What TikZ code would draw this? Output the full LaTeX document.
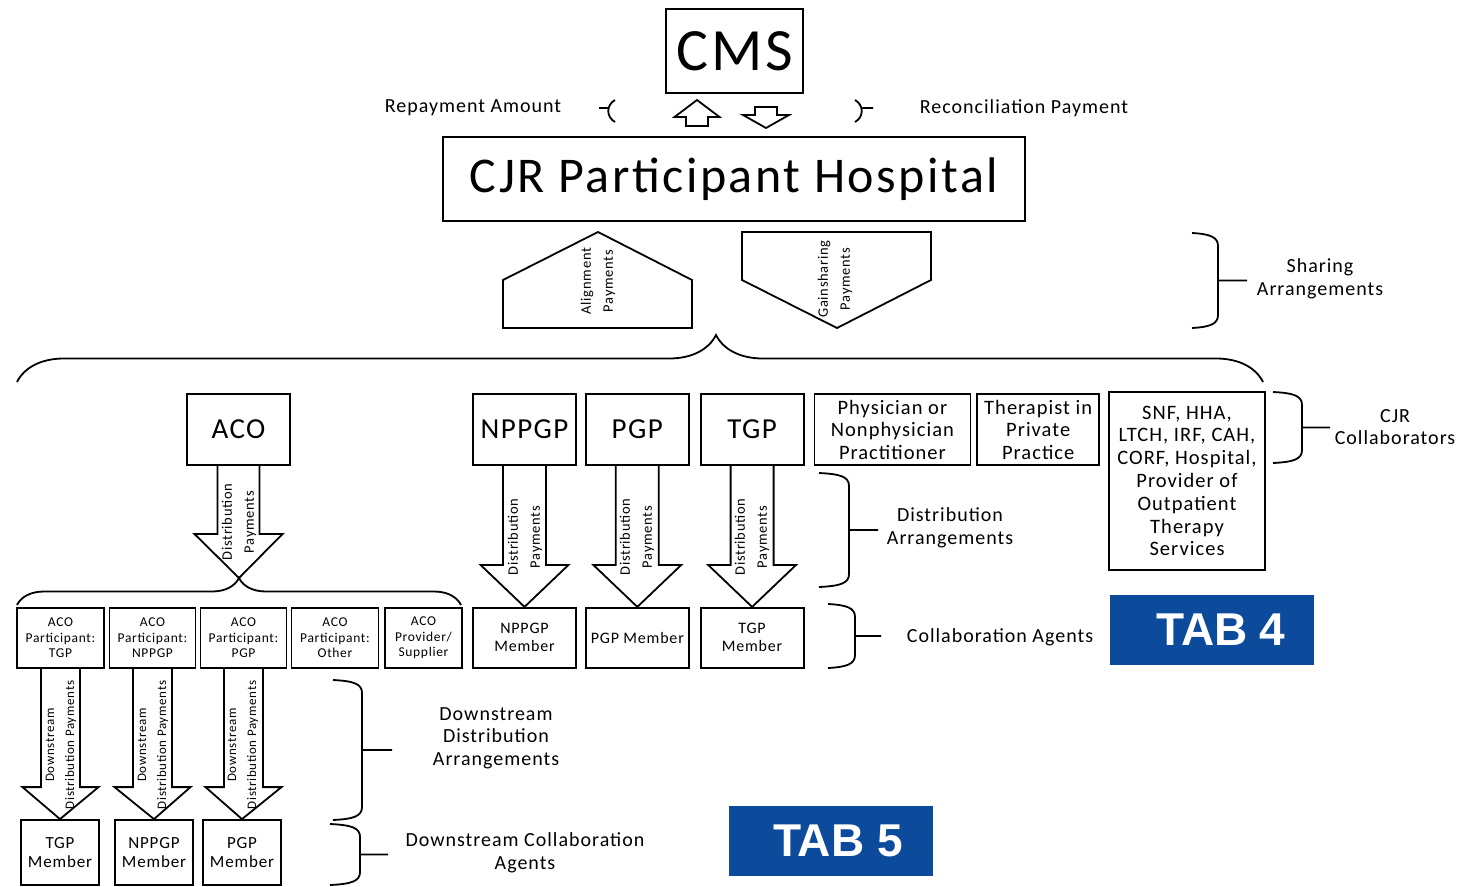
\documentclass[tikz,border=0pt]{standalone}
\usepackage{fontspec}
\setmainfont{Carlito}[LetterSpace=5]
\newfontfamily\tabfont{Liberation Sans}
\usetikzlibrary{positioning,calc,decorations.pathreplacing}
\definecolor{tabblue}{RGB}{12,74,156}

\newcommand{\fs}[2]{\fontsize{#1}{#2}\selectfont}
% hollow block arrow from a box down to a node anchor
\newcommand{\blockarrow}[5]{%
  \draw[blk] let \p1 = (#1.south), \p2 = (#2) in
    (\x1-#3pt,\y1) -- (\x1-#3pt,\y2+#5pt) -- (\x1-#4pt,\y2+#5pt) -- (\x2,\y2)
    -- (\x1+#4pt,\y2+#5pt) -- (\x1+#3pt,\y2+#5pt) -- (\x1+#3pt,\y1);}
% right curly bracket with a tick
\newcommand{\sidebrace}[5]{%
  \draw[brc] (#1,#3) .. controls (#2-8,#3+1) and (#2,#3+4) .. (#2,#3+13)
    -- (#2,#4-13) .. controls (#2,#4-4) and (#2-8,#4-1) .. (#1,#4)
    (#2,{(#3+#4)/2}) -- (#5,{(#3+#4)/2});}

\begin{document}
\begin{tikzpicture}[x=1pt, y=-1pt,
  box/.style = {draw, line width=1.8pt, align=center, inner sep=0pt},
  big/.style = {box, font=\fs{29}{32}, minimum width=103, minimum height=71},
  mid/.style = {box, font=\fs{20.5}{22.5}, minimum height=71},
  mem/.style = {box, font=\fs{16}{18}, minimum width=103, minimum height=60},
  sub/.style = {box, font=\fs{13.5}{15.5}, minimum height=60},
  dmem/.style = {box, font=\fs{17}{19}, minimum width=78, minimum height=65},
  lbl/.style = {align=center, font=\fs{20}{22.5}},
  arrlbl/.style = {align=center, font=\fs{14.5}{22}},
  dlbl/.style = {align=center, font=\fs{13}{20}},
  tab/.style = {fill=tabblue, text=white, font=\tabfont\bfseries\fs{46}{50},
                minimum width=204, minimum height=70},
  brc/.style = {line width=1.8pt},
  blk/.style = {line width=1.8pt, line join=miter},
  ]
  \fill[white] (0,0) rectangle (1463,886);
  \useasboundingbox (0,0) rectangle (1463,886);

  % CMS and hospital
  \node[box, font=\fs{60}{62}, minimum width=137, minimum height=84] (cms) at (734.5,51) {CMS};
  \node[box, font=\fs{50}{52}, minimum width=582, minimum height=84] (cjr) at (734,179) {CJR Participant Hospital};
  \node[lbl] (rep) at (473,108) {Repayment Amount};
  \node[lbl] (rec) at (1024,108) {Reconciliation Payment};
  \draw[brc] (615,100) .. controls (606,105) and (606,117) .. (615,122) (607.5,108) -- (599,108);
  \draw[brc] (855,100) .. controls (864,105) and (864,117) .. (855,122) (862.5,108) -- (873,108);
  \draw[blk] (697,100) -- (719.5,117) -- (708,117) -- (708,126) -- (686,126) -- (686,117) -- (674.5,117) -- cycle;
  \draw[blk] (755,107) -- (777,107) -- (777,115) -- (789,115) -- (766,128) -- (743,115) -- (755,115) -- cycle;

  % sharing arrangements
  \draw[blk] (503,328) -- (503,280) -- (598,232) -- (692,280) -- (692,328) -- cycle;
  \node[arrlbl, rotate=90] (alig) at (598,281) {Alignment\\Payments};
  \draw[blk] (742,232) -- (931,232) -- (931,280) -- (837,328) -- (742,280) -- cycle;
  \node[arrlbl, rotate=90] (gain) at (835,279) {Gainsharing\\Payments};
  \sidebrace{1192}{1218}{233}{328}{1247}
  \node[lbl] (shar) at (1320,279) {Sharing\\Arrangements};
  \draw[brc, decorate, decoration={brace, amplitude=47pt, aspect=0.561}] (17,382) -- (1263,382);

  % collaborators
  \node[big] (aco) at (238.5,429.5) {ACO};
  \node[big] (nppgp) at (524.5,429.5) {NPPGP};
  \node[big, right=8pt of nppgp] (pgp) {PGP};
  \node[big, right=10pt of pgp] (tgp) {TGP};
  \node[mid, minimum width=156, right=9pt of tgp] (phys) {Physician or\\Nonphysician\\Practitioner};
  \node[mid, minimum width=122, right=5pt of phys] (ther) {Therapist in\\Private\\Practice};
  \node[box, font=\fs{20.5}{22.8}, minimum width=156, minimum height=178] (snf) at (1187,481)
    {SNF, HHA,\\LTCH, IRF, CAH,\\CORF, Hospital,\\Provider of\\Outpatient\\Therapy\\Services};
  \sidebrace{1273}{1302}{392}{463}{1330}
  \node[lbl] (cjrc) at (1395,427) {CJR\\Collaborators};

  % distribution to members
  \node[mem, below=141pt of nppgp] (nppgpm) {NPPGP\\Member};
  \node[mem, below=141pt of pgp] (pgpm) {PGP Member};
  \node[mem, below=141pt of tgp] (tgpm) {TGP\\Member};
  \blockarrow{nppgp}{nppgpm.north}{21.5}{44}{42}
  \blockarrow{pgp}{pgpm.north}{21.5}{44}{42}
  \blockarrow{tgp}{tgpm.north}{21.5}{44}{42}
  \node[arrlbl, rotate=90] (l1) at (525,537) {Distribution\\Payments};
  \node[arrlbl, rotate=90] (l2) at (637,537) {Distribution\\Payments};
  \node[arrlbl, rotate=90] (l3) at (752,537) {Distribution\\Payments};
  \sidebrace{819}{849}{473}{587}{878}
  \node[lbl] (distarr) at (950,528) {Distribution\\Arrangements};
  \sidebrace{828}{855}{604}{668}{881}
  \node[lbl] (collag) at (1000,637) {Collaboration Agents};
  \node[tab] (tab4) at (1212,629.5) {\hspace*{18pt}TAB\hspace{12pt}4};

  % ACO participants
  \coordinate (acotip) at (239,578);
  \blockarrow{aco}{acotip}{21}{44}{44}
  \node[arrlbl, rotate=90] (acolbl) at (239,522) {Distribution\\Payments};
  \draw[brc, decorate, decoration={brace, amplitude=27pt}] (17,605) -- (461,605);
  \node[sub, minimum width=87] (ptgp) at (60.5,638) {ACO\\Participant:\\TGP};
  \node[sub, minimum width=86] (pnppgp) at (152.5,638) {ACO\\Participant:\\NPPGP};
  \node[sub, minimum width=86] (ppgp) at (243.5,638) {ACO\\Participant:\\PGP};
  \node[sub, minimum width=87] (poth) at (335,638) {ACO\\Participant:\\Other};
  \node[sub, minimum width=77] (psup) at (423.5,638) {ACO\\Provider/\\Supplier};

  % downstream
  \node[dmem] (dtgp) at (60,852.5) {TGP\\Member};
  \node[dmem] (dnppgp) at (154,852.5) {NPPGP\\Member};
  \node[dmem] (dpgp) at (242,852.5) {PGP\\Member};
  \blockarrow{ptgp}{dtgp.north}{19.5}{38}{32}
  \blockarrow{pnppgp}{dnppgp.north}{19.5}{38}{32}
  \blockarrow{ppgp}{dpgp.north}{19.5}{38}{32}
  \node[dlbl, rotate=90] (dl1) at (61,745) {Downstream\\Distribution Payments};
  \node[dlbl, rotate=90] (dl2) at (153,745) {Downstream\\Distribution Payments};
  \node[dlbl, rotate=90] (dl3) at (243,745) {Downstream\\Distribution Payments};
  \sidebrace{333}{362}{680}{820}{392}
  \node[lbl] (ddarr) at (496,738) {Downstream\\Distribution\\Arrangements};
  \sidebrace{330}{360}{824}{885}{388}
  \node[lbl] (dcoll) at (525,853) {Downstream Collaboration\\Agents};
  \node[tab] (tab5) at (831,841) {\hspace*{14pt}TAB 5};
\end{tikzpicture}
\end{document}
